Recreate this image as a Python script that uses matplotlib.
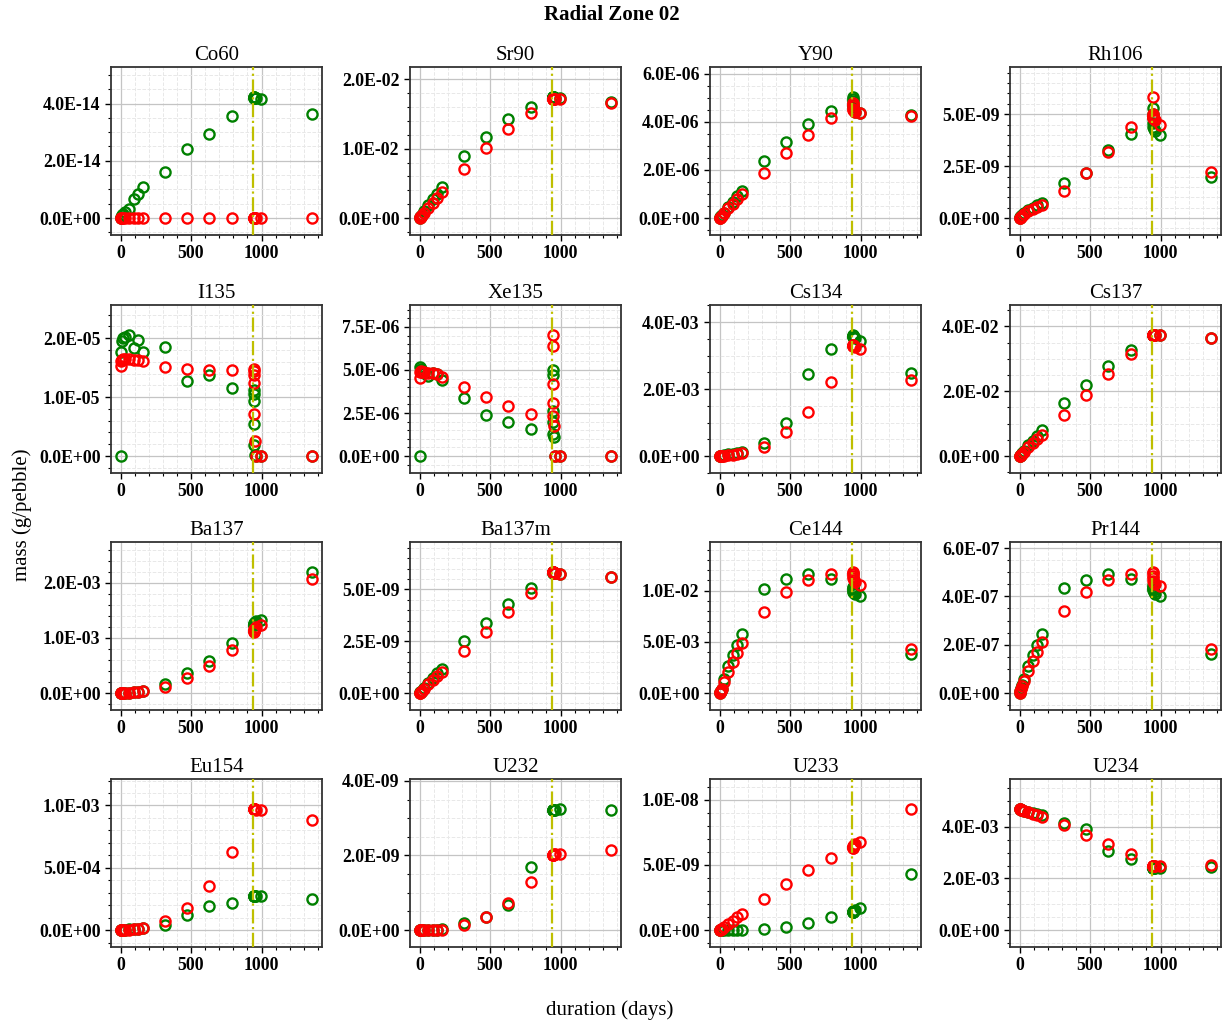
import numpy as np
import matplotlib
matplotlib.use("Agg")
import matplotlib.pyplot as plt
from matplotlib.ticker import MultipleLocator, AutoMinorLocator, FormatStrFormatter

plt.rcParams['font.family'] = ['Liberation Serif', 'DejaVu Serif']

# time steps (days)
t_days = [0, 3, 8, 16, 31, 63, 94, 126, 157, 315, 472, 630, 787,
          945, 945.3, 946, 947, 949, 952, 962, 995, 1361]
t_shutdown = 940

# values in scaled units, green = series 1, red = series 2
co60_g = [0, 0.05, 0.1, 0.15, 0.22, 0.3, 0.65, 0.85, 1.1, 1.6, 2.4, 2.95, 3.57,
          4.22, 4.22, 4.22, 4.21, 4.21, 4.2, 4.18, 4.15, 3.65]
co60_r = [0] * 22

sr90_g = [0, 0.01, 0.03, 0.05, 0.1, 0.19, 0.27, 0.35, 0.45, 0.9, 1.17, 1.42, 1.6,
          1.74, 1.74, 1.74, 1.74, 1.74, 1.74, 1.73, 1.73, 1.67]
sr90_r = [0, 0.01, 0.02, 0.04, 0.08, 0.15, 0.22, 0.29, 0.37, 0.71, 1.01, 1.28, 1.51,
          1.71, 1.71, 1.71, 1.71, 1.71, 1.71, 1.71, 1.71, 1.66]

y90_g = [0, 0.03, 0.07, 0.12, 0.22, 0.45, 0.68, 0.9, 1.13, 2.39, 3.16, 3.92, 4.46,
         5.02, 4.95, 4.85, 4.7, 4.6, 4.5, 4.42, 4.38, 4.28]
y90_r = [0, 0.02, 0.05, 0.1, 0.2, 0.4, 0.6, 0.8, 0.99, 1.86, 2.7, 3.46, 4.14,
         4.8, 4.75, 4.65, 4.55, 4.5, 4.45, 4.4, 4.36, 4.25]

rh106_g = [0, 0.03, 0.08, 0.15, 0.25, 0.4, 0.5, 0.65, 0.75, 1.68, 2.15, 3.27, 4.07,
           5.3, 5.0, 4.8, 4.6, 4.4, 4.3, 4.2, 3.99, 1.99]
rh106_r = [0, 0.02, 0.06, 0.12, 0.2, 0.33, 0.45, 0.55, 0.64, 1.3, 2.16, 3.2, 4.4,
           5.82, 5.0, 4.9, 4.85, 4.8, 4.75, 4.7, 4.49, 2.24]

i135_g = [0, 1.76, 1.95, 2.0, 2.02, 2.05, 1.84, 1.97, 1.77, 1.85, 1.28, 1.37, 1.15,
          1.12, 1.06, 0.94, 0.55, 0.18, 0.02, 0, 0, 0]
i135_r = [1.52, 1.62, 1.63, 1.64, 1.64, 1.64, 1.63, 1.63, 1.61, 1.51, 1.48, 1.46, 1.46,
          1.48, 1.45, 1.38, 1.24, 0.72, 0.25, 0, 0, 0]

xe135_g = [0, 5.15, 5.05, 4.95, 4.85, 4.63, 4.8, 4.75, 4.4, 3.39, 2.38, 1.96, 1.55,
           5.0, 4.7, 2.6, 2.0, 1.26, 1.1, 0, 0, 0]
xe135_r = [4.52, 4.9, 4.92, 4.9, 4.88, 4.85, 4.8, 4.75, 4.6, 4.03, 3.45, 2.93, 2.46,
           7.02, 6.38, 4.17, 3.08, 2.3, 1.75, 0, 0, 0]

cs134_g = [0, 0.002, 0.005, 0.01, 0.02, 0.05, 0.07, 0.09, 0.12, 0.38, 1.0, 2.45, 3.2,
           3.61, 3.6, 3.59, 3.58, 3.57, 3.56, 3.52, 3.45, 2.48]
cs134_r = [0, 0.001, 0.003, 0.006, 0.01, 0.03, 0.04, 0.05, 0.08, 0.28, 0.71, 1.33, 2.21,
           3.31, 3.31, 3.3, 3.3, 3.3, 3.29, 3.26, 3.2, 2.28]

cs137_g = [0, 0.015, 0.04, 0.08, 0.16, 0.33, 0.48, 0.62, 0.8, 1.63, 2.2, 2.78, 3.28,
           3.73, 3.73, 3.73, 3.73, 3.73, 3.73, 3.73, 3.73, 3.63]
cs137_r = [0, 0.01, 0.03, 0.06, 0.12, 0.28, 0.4, 0.52, 0.64, 1.27, 1.9, 2.52, 3.14,
           3.73, 3.73, 3.73, 3.73, 3.73, 3.73, 3.73, 3.73, 3.63]

ba137_g = [0, 0, 0, 0.001, 0.002, 0.008, 0.015, 0.025, 0.04, 0.17, 0.36, 0.59, 0.9,
           1.23, 1.24, 1.25, 1.26, 1.27, 1.28, 1.3, 1.33, 2.19]
ba137_r = [0, 0, 0, 0.001, 0.002, 0.006, 0.012, 0.02, 0.03, 0.11, 0.28, 0.49, 0.78,
           1.11, 1.12, 1.13, 1.15, 1.16, 1.17, 1.2, 1.23, 2.07]

ba137m_g = [0, 0.03, 0.06, 0.12, 0.25, 0.5, 0.72, 0.95, 1.18, 2.5, 3.37, 4.29, 5.08,
            5.82, 5.82, 5.82, 5.81, 5.81, 5.8, 5.78, 5.75, 5.61]
ba137m_r = [0, 0.02, 0.05, 0.1, 0.2, 0.43, 0.63, 0.82, 1.02, 2.02, 2.95, 3.92, 4.84,
            5.83, 5.83, 5.83, 5.82, 5.82, 5.81, 5.79, 5.76, 5.6]

ce144_g = [0, 0.1, 0.2, 0.4, 1.37, 2.68, 3.7, 4.74, 5.75, 10.2, 11.1, 11.6, 11.1,
           10.4, 10.3, 10.2, 10.0, 9.9, 9.8, 9.7, 9.5, 3.85]
ce144_r = [0, 0.1, 0.2, 0.35, 1.13, 2.1, 3.0, 3.95, 4.85, 7.95, 9.9, 11.05, 11.6,
           11.8, 11.7, 11.6, 11.4, 11.2, 11.0, 10.8, 10.55, 4.3]

pr144_g = [0, 0.1, 0.2, 0.35, 0.6, 1.1, 1.56, 2.0, 2.44, 4.36, 4.68, 4.92, 4.72,
           4.46, 4.4, 4.35, 4.3, 4.25, 4.2, 4.1, 4.0, 1.61]
pr144_r = [0, 0.08, 0.15, 0.3, 0.48, 0.91, 1.31, 1.7, 2.1, 3.38, 4.19, 4.68, 4.91,
           5.0, 4.95, 4.85, 4.75, 4.65, 4.55, 4.5, 4.45, 1.81]

eu154_g = [0, 0, 0.005, 0.01, 0.02, 0.05, 0.08, 0.12, 0.18, 0.43, 1.23, 1.93, 2.14,
           2.76, 2.76, 2.76, 2.76, 2.75, 2.75, 2.73, 2.7, 2.52]
eu154_r = [0, 0, 0.005, 0.01, 0.02, 0.04, 0.07, 0.1, 0.15, 0.7, 1.74, 3.56, 6.3,
           9.7, 9.7, 9.7, 9.7, 9.69, 9.68, 9.66, 9.62, 8.85]

u232_g = [0, 0, 0, 0, 0.001, 0.004, 0.008, 0.013, 0.02, 0.19, 0.36, 0.66, 1.7,
          3.23, 3.23, 3.23, 3.23, 3.23, 3.23, 3.23, 3.24, 3.21]
u232_r = [0, 0, 0, 0, 0.001, 0.003, 0.006, 0.01, 0.015, 0.13, 0.36, 0.73, 1.28,
          2.02, 2.02, 2.02, 2.02, 2.02, 2.03, 2.03, 2.04, 2.16]

u233_g = [0, 0, 0, 0, 0, 0, 0.001, 0.002, 0.003, 0.05, 0.2, 0.51, 1.0,
          1.36, 1.38, 1.4, 1.42, 1.45, 1.48, 1.55, 1.72, 4.28]
u233_r = [0, 0.02, 0.05, 0.1, 0.2, 0.46, 0.72, 0.97, 1.23, 2.41, 3.56, 4.64, 5.56,
          6.28, 6.3, 6.35, 6.4, 6.45, 6.5, 6.6, 6.8, 9.28]

u234_g = [4.68, 4.67, 4.66, 4.65, 4.62, 4.58, 4.54, 4.5, 4.46, 4.15, 3.9, 3.07, 2.75,
          2.41, 2.41, 2.41, 2.41, 2.41, 2.41, 2.42, 2.42, 2.44]
u234_r = [4.68, 4.67, 4.66, 4.64, 4.61, 4.56, 4.51, 4.46, 4.39, 4.05, 3.69, 3.33, 2.93,
          2.48, 2.48, 2.48, 2.48, 2.48, 2.48, 2.48, 2.48, 2.52]

nuclides = ['Co60', 'Sr90', 'Y90', 'Rh106', 'I135', 'Xe135', 'Cs134', 'Cs137',
            'Ba137', 'Ba137m', 'Ce144', 'Pr144', 'Eu154', 'U232', 'U233', 'U234']
scales = [1e-14, 1e-2, 1e-6, 1e-9, 1e-5, 1e-6, 1e-3, 1e-2,
          1e-3, 1e-9, 1e-3, 1e-7, 1e-4, 1e-9, 1e-9, 1e-3]
y_steps = [2, 1, 2, 2.5, 1, 2.5, 2, 2, 1, 2.5, 5, 2, 5, 2, 5, 2]

green_series = [co60_g, sr90_g, y90_g, rh106_g, i135_g, xe135_g, cs134_g, cs137_g,
                ba137_g, ba137m_g, ce144_g, pr144_g, eu154_g, u232_g, u233_g, u234_g]
red_series = [co60_r, sr90_r, y90_r, rh106_r, i135_r, xe135_r, cs134_r, cs137_r,
              ba137_r, ba137m_r, ce144_r, pr144_r, eu154_r, u232_r, u233_r, u234_r]

W, H = 1225, 1030
fig = plt.figure(figsize=(W / 100, H / 100), dpi=100)

col_left = [111, 410, 710, 1010]
row_top = [67, 305, 542, 779]
ax_w, ax_h = 211, 168

for i, name in enumerate(nuclides):
    r, c = divmod(i, 4)
    ax = fig.add_axes([col_left[c] / W, 1 - (row_top[r] + ax_h) / H, ax_w / W, ax_h / H])
    s = scales[i]
    g = np.array(green_series[i]) * s
    rd = np.array(red_series[i]) * s

    ax.grid(which='major', color='#c4c4c4', lw=0.9, zorder=0)
    ax.grid(which='minor', color='#e8e8e8', lw=0.7, ls='--', zorder=0)
    ax.set_axisbelow(True)

    ax.plot(t_days, g, 'o', mfc='none', mec='green', ms=7.3, mew=1.7, zorder=2)
    ax.plot(t_days, rd, 'o', mfc='none', mec='red', ms=7.3, mew=1.7, zorder=2)
    ax.axvline(t_shutdown, color='y', ls='-.', lw=1.6, zorder=3)

    ymax = max(g.max(), rd.max())
    ax.set_ylim(-0.14 * ymax, 1.25 * ymax)
    ax.yaxis.set_major_locator(MultipleLocator(y_steps[i] * s))
    ax.yaxis.set_minor_locator(AutoMinorLocator())
    ax.yaxis.set_major_formatter(FormatStrFormatter('%.1E'))
    ax.xaxis.set_major_locator(MultipleLocator(500))
    ax.xaxis.set_minor_locator(MultipleLocator(100))

    ax.set_title(name, fontsize=15, pad=5)
    ax.tick_params(which='major', direction='out', length=4, width=1, labelsize=12.8)
    ax.tick_params(which='minor', direction='out', length=2, width=0.8)
    for lab in ax.get_xticklabels() + ax.get_yticklabels():
        lab.set_fontweight('bold')
    for sp in ax.spines.values():
        sp.set_color('#333333')
        sp.set_linewidth(1.3)

fig.text(612 / W, 1 - 15 / H, 'Radial Zone 02', ha='center', va='center',
         fontsize=15, fontweight='bold')
fig.text(610 / W, 1 - 1010 / H, 'duration (days)', ha='center', va='center', fontsize=15)
fig.text(22 / W, 1 - 515 / H, 'mass (g/pebble)', ha='center', va='center',
         rotation=90, fontsize=15)

fig.savefig('out.png', dpi=100)
